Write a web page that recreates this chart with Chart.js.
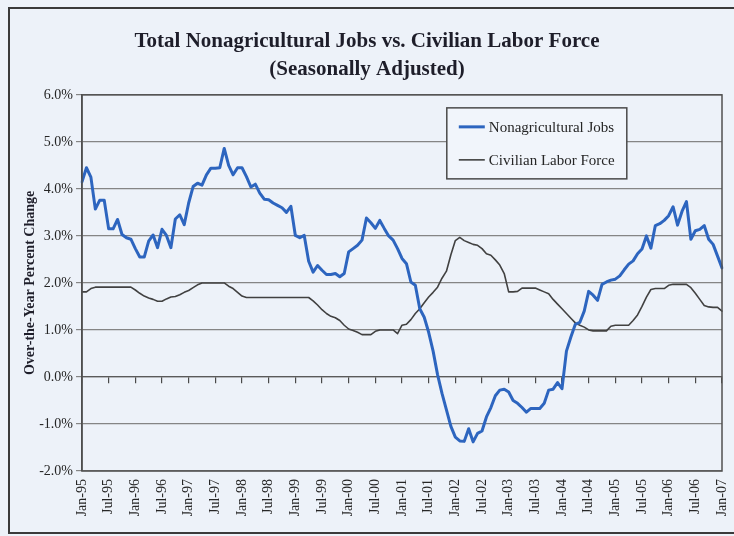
<!DOCTYPE html>
<html>
<head>
<meta charset="utf-8">
<script src="https://cdn.jsdelivr.net/npm/chart.js@4.4.1/dist/chart.umd.min.js"></script>
<style>
  html, body { margin: 0; padding: 0; background: #edf2f9; }
  #myChart { display: block; }
</style>
</head>
<body>
<canvas id="myChart" width="734" height="536"></canvas>
<script>
// month labels Jan-95 .. Jan-07
var monthNames = ['Jan','Feb','Mar','Apr','May','Jun','Jul','Aug','Sep','Oct','Nov','Dec']
var months = []
for (var k = 0; k < 145; k++) {
    var yr = 1995 + Math.floor(k / 12)
    months.push(monthNames[k % 12] + '-' + String(yr).slice(2))
}

// over-the-year percent change
var nonagJobs = [
    4.15, 4.45, 4.25, 3.57, 3.76, 3.76, 3.15, 3.15, 3.35, 3.03, 2.96, 2.93,   // 1995
    2.73, 2.55, 2.55, 2.89, 3.02, 2.75, 3.14, 3.01, 2.75, 3.36, 3.45, 3.24,   // 1996
    3.70, 4.05, 4.12, 4.08, 4.30, 4.44, 4.44, 4.45, 4.86, 4.50, 4.30, 4.45,   // 1997
    4.45, 4.26, 4.04, 4.10, 3.91, 3.78, 3.77, 3.70, 3.65, 3.60, 3.50, 3.63,   // 1998
    3.01, 2.96, 3.01, 2.46, 2.23, 2.37, 2.27, 2.18, 2.18, 2.20, 2.13, 2.20,   // 1999
    2.66, 2.73, 2.80, 2.91, 3.38, 3.28, 3.16, 3.33, 3.16, 3.00, 2.91, 2.73,   // 2000
    2.52, 2.41, 2.02, 1.95, 1.45, 1.27, 0.95, 0.55, 0.05, -0.35, -0.70, -1.05, // 2001
    -1.28, -1.36, -1.37, -1.10, -1.38, -1.20, -1.15, -0.85, -0.65, -0.40, -0.28, -0.26, // 2002
    -0.32, -0.50, -0.56, -0.65, -0.75, -0.67, -0.67, -0.67, -0.56, -0.28, -0.26, -0.12, // 2003
    -0.25, 0.55, 0.85, 1.12, 1.16, 1.40, 1.82, 1.74, 1.63, 1.97, 2.02, 2.06,  // 2004
    2.08, 2.15, 2.28, 2.40, 2.47, 2.62, 2.72, 3.00, 2.74, 3.22, 3.26, 3.33,   // 2005
    3.43, 3.62, 3.23, 3.52, 3.73, 2.93, 3.11, 3.14, 3.22, 2.93, 2.82, 2.57,   // 2006
    2.32                                                                      // Jan-07
]
var laborForce = [
    1.81, 1.81, 1.88, 1.91, 1.91, 1.91, 1.91, 1.91, 1.91, 1.91, 1.91, 1.91,
    1.85, 1.78, 1.72, 1.68, 1.65, 1.61, 1.61, 1.66, 1.70, 1.71, 1.75, 1.80,
    1.84, 1.90, 1.96, 2.00, 2.00, 2.00, 2.00, 2.00, 2.00, 1.93, 1.88, 1.80,
    1.72, 1.69, 1.69, 1.69, 1.69, 1.69, 1.69, 1.69, 1.69, 1.69, 1.69, 1.69,
    1.69, 1.69, 1.69, 1.69, 1.62, 1.53, 1.43, 1.35, 1.29, 1.26, 1.20, 1.10,
    1.02, 0.99, 0.95, 0.90, 0.90, 0.90, 0.97, 1.00, 1.00, 1.00, 1.00, 0.92,
    1.10, 1.12, 1.22, 1.35, 1.45, 1.58, 1.70, 1.80, 1.91, 2.10, 2.25, 2.60,
    2.90, 2.97, 2.90, 2.86, 2.82, 2.80, 2.73, 2.62, 2.59, 2.49, 2.38, 2.20,
    1.81, 1.81, 1.82, 1.89, 1.89, 1.89, 1.89, 1.85, 1.81, 1.77, 1.65, 1.55,
    1.45, 1.35, 1.25, 1.15, 1.10, 1.06, 1.00, 0.98, 0.98, 0.98, 0.98, 1.08,
    1.10, 1.10, 1.10, 1.10, 1.20, 1.32, 1.50, 1.70, 1.86, 1.88, 1.88, 1.88,
    1.95, 1.97, 1.97, 1.97, 1.97, 1.90, 1.78, 1.65, 1.52, 1.49, 1.48, 1.48,
    1.40
]
var seriesNames = ['Nonagricultural Jobs', 'Civilian Labor Force']
var titleLines = ['Total Nonagricultural Jobs vs. Civilian Labor Force', '(Seasonally Adjusted)']

var serif = 'Liberation Serif, Times New Roman, serif'

// background, outer frame, plot box and the boxed legend inside the plot
var decor = {
    id: 'decor',
    beforeDraw: function(chart) {
        var ctx = chart.ctx
        ctx.save()
        ctx.fillStyle = '#edf2f9'
        ctx.fillRect(0, 0, chart.width, chart.height)
        ctx.strokeStyle = '#3a3a3a'
        ctx.lineWidth = 2
        ctx.strokeRect(9, 8, chart.width, chart.height - 11)
        ctx.restore()
    },
    afterDraw: function(chart) {
        var ctx = chart.ctx
        var a = chart.chartArea
        ctx.save()
        ctx.strokeStyle = '#505050'
        ctx.lineWidth = 1.5
        ctx.strokeRect(a.left, a.top, a.right - a.left, a.bottom - a.top)

        // legend box
        var lx = a.left + (a.right - a.left) * 0.57
        var ly = a.top + 13
        ctx.fillStyle = '#f1f5fb'
        ctx.fillRect(lx, ly, 180, 71)
        ctx.strokeStyle = '#4a4a4a'
        ctx.lineWidth = 1.5
        ctx.strokeRect(lx, ly, 180, 71)
        ctx.font = '15px ' + serif
        ctx.textBaseline = 'middle'
        chart.data.datasets.forEach(function(ds, i) {
            var yy = ly + 19 + i * 33
            ctx.strokeStyle = ds.borderColor
            ctx.lineWidth = ds.borderWidth
            ctx.beginPath()
            ctx.moveTo(lx + 12, yy)
            ctx.lineTo(lx + 38, yy)
            ctx.stroke()
            ctx.fillStyle = '#262626'
            ctx.fillText(ds.label, lx + 42, yy + 1)
        })
        ctx.restore()
    }
}

var ctx = document.getElementById('myChart').getContext('2d')
var chart = new Chart(ctx, {
    type: 'line',
    data: {
        labels: months,
        datasets: [{
            label: seriesNames[0],
            data: nonagJobs,
            borderColor: '#2d65bf',
            borderWidth: 3,
            order: 1
        }, {
            label: seriesNames[1],
            data: laborForce,
            borderColor: '#414141',
            borderWidth: 1.6,
            order: 2
        }]
    },
    options: {
        responsive: false,
        animation: false,
        devicePixelRatio: 1,
        layout: { padding: { left: 12, right: 12, top: 0, bottom: 0 } },
        elements: {
            point: { radius: 0 },
            line: { tension: 0, borderJoinStyle: 'round', borderCapStyle: 'round' }
        },
        plugins: {
            legend: { display: false },
            tooltip: { enabled: false },
            title: {
                display: true,
                text: titleLines,
                color: '#1e1e2a',
                font: { family: serif, size: 21, weight: 'bold', lineHeight: 1.33 },
                padding: { top: 28, bottom: 11 }
            }
        },
        scales: {
            x: {
                position: 'bottom',
                grid: { display: false, drawTicks: false },
                border: { display: false },
                ticks: {
                    autoSkip: false,
                    minRotation: 90,
                    maxRotation: 90,
                    padding: 8,
                    color: '#262626',
                    font: { family: serif, size: 14 },
                    callback: function(v, i) {
                        return i % 6 === 0 ? this.getLabelForValue(v) : null
                    }
                },
                afterFit: function(s) {
                    s.height = 65
                    s.paddingLeft = 0
                    s.paddingRight = 0
                }
            },
            // tick marks sitting on the 0% line
            x2: {
                type: 'category',
                position: { y: 0 },
                grid: {
                    drawOnChartArea: false,
                    tickLength: 6,
                    lineWidth: 1.2,
                    color: function(c) { return c.index % 6 === 0 ? '#4a4a4a' : 'rgba(0,0,0,0)' }
                },
                border: { display: true, color: '#5a5a5a', width: 1.2 },
                ticks: { display: false }
            },
            y: {
                min: -2,
                max: 6,
                ticks: {
                    stepSize: 1,
                    padding: 3,
                    color: '#262626',
                    font: { family: serif, size: 14 },
                    callback: function(v) { return v.toFixed(1) + '%' }
                },
                grid: { color: '#858585', lineWidth: 1.2, tickLength: 6 },
                border: { display: true, color: '#4a4a4a', width: 1.5 },
                title: {
                    display: true,
                    text: 'Over-the-Year Percent Change',
                    color: '#1e1e2a',
                    font: { family: serif, size: 14, weight: 'bold' },
                    padding: { top: 10, bottom: 0 }
                },
                afterFit: function(s) { s.width = 70 }
            }
        }
    },
    plugins: [decor]
})
</script>
</body>
</html>
